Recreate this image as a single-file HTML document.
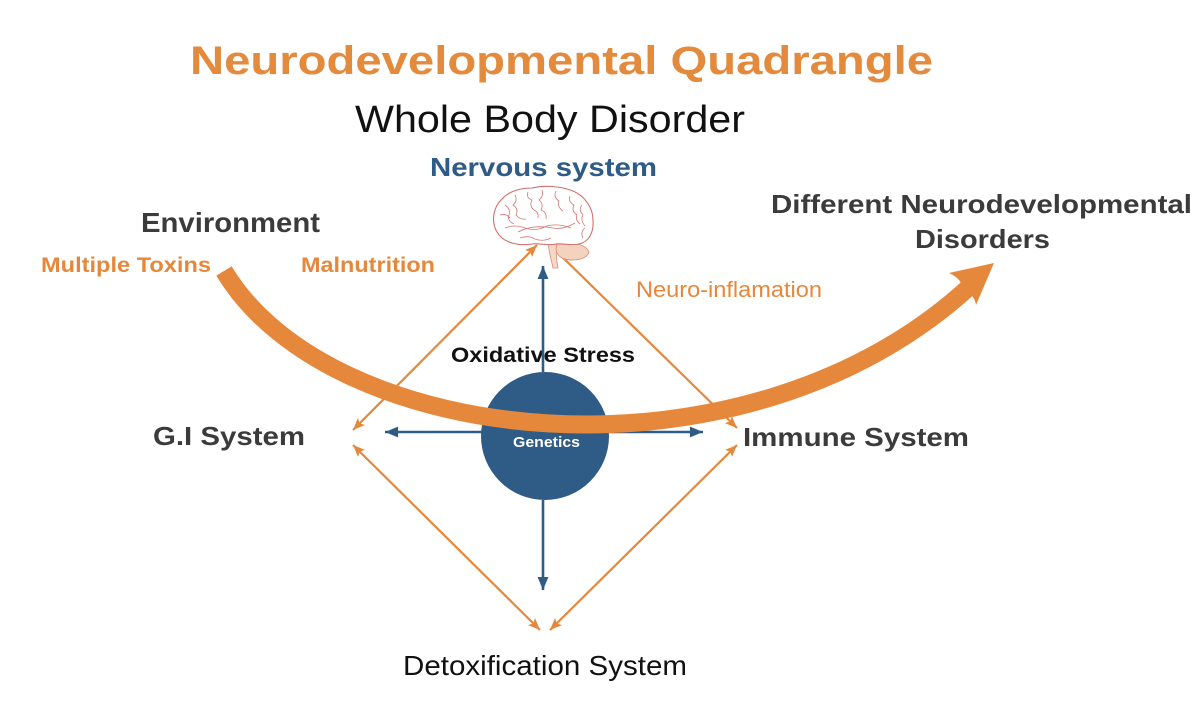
<!DOCTYPE html>
<html>
<head>
<meta charset="utf-8">
<style>
  html,body{margin:0;padding:0;background:#fff;}
  svg{display:block;}
  text{font-family:"Liberation Sans", Arial, sans-serif;}
</style>
</head>
<body>
<svg width="1200" height="712" viewBox="0 0 1200 712" xmlns="http://www.w3.org/2000/svg">
  <defs>
    <marker id="oa" viewBox="0 0 12 10" refX="12" refY="5" markerWidth="12" markerHeight="10" markerUnits="userSpaceOnUse" orient="auto-start-reverse">
      <path d="M0,0 L12,5 L0,10 L2.5,5 Z" fill="#E5883B"/>
    </marker>
    <marker id="ba" viewBox="0 0 12 10" refX="12" refY="5" markerWidth="13" markerHeight="11" markerUnits="userSpaceOnUse" orient="auto">
      <path d="M0,0 L12,5 L0,10 Z" fill="#2F5B87"/>
    </marker>
  </defs>
  <rect width="1200" height="712" fill="#fff"/>

  <!-- Title -->
  <text x="190" y="74" font-size="40" font-weight="bold" fill="#E38A3C" textLength="743" lengthAdjust="spacingAndGlyphs">Neurodevelopmental Quadrangle</text>
  <text x="355" y="132" font-size="38" fill="#111" textLength="390" lengthAdjust="spacingAndGlyphs">Whole Body Disorder</text>
  <text x="430" y="176" font-size="26" font-weight="bold" fill="#2F5B87" textLength="227" lengthAdjust="spacingAndGlyphs">Nervous system</text>

  <!-- Left labels -->
  <text x="141" y="232" font-size="28" font-weight="bold" fill="#3b3b3b" textLength="179" lengthAdjust="spacingAndGlyphs">Environment</text>
  <text x="41" y="272" font-size="21" font-weight="bold" fill="#E5883B" textLength="170" lengthAdjust="spacingAndGlyphs">Multiple Toxins</text>
  <text x="301" y="272" font-size="21" font-weight="bold" fill="#E5883B" textLength="134" lengthAdjust="spacingAndGlyphs">Malnutrition</text>

  <!-- Right labels -->
  <text x="771" y="213" font-size="26" font-weight="bold" fill="#3b3b3b" textLength="421" lengthAdjust="spacingAndGlyphs">Different Neurodevelopmental</text>
  <text x="915" y="248" font-size="26" font-weight="bold" fill="#3b3b3b" textLength="135" lengthAdjust="spacingAndGlyphs">Disorders</text>
  <text x="636" y="297" font-size="22" fill="#E5883B" textLength="186" lengthAdjust="spacingAndGlyphs">Neuro-inflamation</text>

  <!-- Orange double-headed connectors -->
  <g stroke="#E5883B" stroke-width="2.2" fill="none">
    <line x1="537" y1="245" x2="353" y2="430" marker-start="url(#oa)" marker-end="url(#oa)"/>
    <line x1="549" y1="244" x2="737" y2="428" marker-start="url(#oa)" marker-end="url(#oa)"/>
    <line x1="353" y1="445" x2="540" y2="630" marker-start="url(#oa)" marker-end="url(#oa)"/>
    <line x1="737" y1="445" x2="550" y2="630" marker-start="url(#oa)" marker-end="url(#oa)"/>
  </g>

  <!-- Brain -->
  <g>
    <path d="M548,243 C549,252 551,259 553,268 L558,268 C556,258 556,250 557,243 Z" fill="#f4d8c6" stroke="#d98a7a" stroke-width="0.8"/>
    <path d="M558,243 C572,242 586,244 589,252 C587,260 572,262 562,258 C555,254 555,248 558,243 Z" fill="#f3d3bd" stroke="#d98a7a" stroke-width="0.8"/>
    <path d="M497,232 C491,222 493,207 502,199 C509,191 521,188 532,188 C545,185 560,186 573,191 C585,196 593,208 593,220 C594,232 589,242 579,244 C570,246 562,243 556,244 C548,246 540,243 532,244 C520,246 504,244 497,232 Z" fill="#fff" stroke="#cf6f6a" stroke-width="1.1"/>
    <g stroke="#d27a74" stroke-width="0.8" fill="none">
      <path d="M505,205 q6,4 4,10 q-2,6 5,9"/>
      <path d="M515,195 q3,6 -2,10 q6,4 3,10 q4,5 10,4"/>
      <path d="M528,192 q-2,6 4,8 q-3,6 2,10 q5,2 4,8"/>
      <path d="M542,190 q2,6 -3,10 q5,4 2,10 q6,2 5,9"/>
      <path d="M556,191 q-3,6 3,10 q-2,6 4,10"/>
      <path d="M570,196 q-2,6 4,9 q-3,6 3,10 q-2,5 3,9"/>
      <path d="M582,205 q-4,5 1,10 q-3,5 2,11"/>
      <path d="M505,228 q10,-4 20,0 q10,4 22,-2 q12,-3 24,2"/>
      <path d="M520,238 q8,-3 15,1 q8,3 16,-1"/>
      <path d="M518,232 q15,-8 35,-4 q10,2 22,-5"/>
      <path d="M500,215 q6,-2 10,3"/>
      <path d="M585,228 q-5,4 -2,10"/>
    </g>
  </g>

  <!-- Genetics circle -->
  <circle cx="545" cy="436" r="64" fill="#2F5B87"/>

  <!-- Oxidative stress label -->
  <text x="451" y="362" font-size="21" font-weight="bold" fill="#111" textLength="184" lengthAdjust="spacingAndGlyphs">Oxidative Stress</text>

  <!-- Blue arrows -->
  <g stroke="#2F5B87" stroke-width="2.6" fill="none">
    <line x1="543" y1="372" x2="543" y2="266" marker-end="url(#ba)"/>
    <line x1="543" y1="500" x2="543" y2="590" marker-end="url(#ba)"/>
    <line x1="482" y1="432" x2="385" y2="432" marker-end="url(#ba)"/>
    <line x1="609" y1="432" x2="703" y2="432" marker-end="url(#ba)"/>
  </g>

  <text x="513" y="447" font-size="15" font-weight="bold" fill="#fff" textLength="67" lengthAdjust="spacingAndGlyphs">Genetics</text>

  <!-- Big curved arrow -->
  <path d="M224,271 C330,448 740,495 968,288" stroke="#E5883B" stroke-width="18" fill="none" stroke-linecap="butt"/>
  <path d="M994,263 L949,273 Q958,277 961,283 L972,296 Q975,299 976,305 Z" fill="#E5883B"/>

  <!-- Node labels -->
  <text x="153" y="445" font-size="26" font-weight="bold" fill="#3b3b3b" textLength="152" lengthAdjust="spacingAndGlyphs">G.I System</text>
  <text x="743" y="446" font-size="26" font-weight="bold" fill="#3b3b3b" textLength="226" lengthAdjust="spacingAndGlyphs">Immune System</text>
  <text x="403" y="675" font-size="28" fill="#111" textLength="284" lengthAdjust="spacingAndGlyphs">Detoxification System</text>
</svg>
</body>
</html>
